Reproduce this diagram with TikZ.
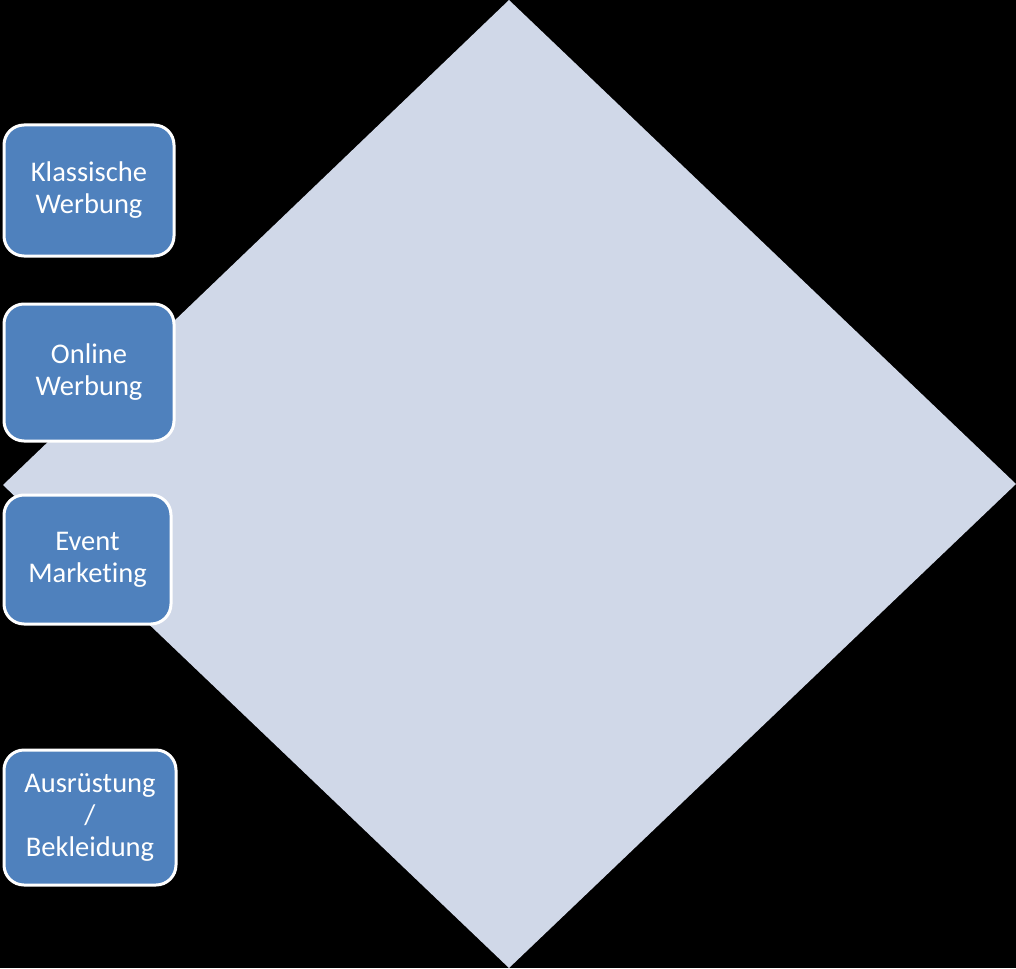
\documentclass[tikz,border=0pt]{standalone}
\usepackage{fontspec}
\setmainfont{Carlito}[Ligatures=NoCommon]
\usetikzlibrary{calc}

\definecolor{diamondfill}{HTML}{D0D8E8}
\definecolor{boxfill}{HTML}{4F81BD}

\begin{document}
\begin{tikzpicture}[x=1pt, y=-1pt,
    catbox/.style={rectangle, rounded corners=20pt, draw=white, line width=3pt,
        fill=boxfill, text=white, align=center, inner sep=0pt,
        font=\fontsize{28.5}{32}\selectfont}]
        % Background
        \fill[black] (0,0) rectangle (1016,968);
        \useasboundingbox (0,0) rectangle (1016,968);

        % Diamond
        \coordinate (top) at (509,0);
        \coordinate (right) at (1016,484);
        \coordinate (bottom) at (509,968);
        \coordinate (left) at (3,485);
        \fill[diamondfill] (top) -- (right) -- (bottom) -- (left) -- cycle;

        % Category boxes
        \node[catbox, minimum width=170pt, minimum height=131pt] (klassisch) at (89,190.5) {Klassische\\Werbung};
        \node[catbox, minimum width=170pt, minimum height=137pt] (online) at (89,372.5) {Online\\Werbung};
        \node[catbox, minimum width=167pt, minimum height=129pt] (event) at (87.5,559.5) {Event\\Marketing};
        \node[catbox, minimum width=172pt, minimum height=135pt] (ausruestung) at (90,817.5) {Ausrüstung\\/\\Bekleidung};
    \end{tikzpicture}
\end{document}
